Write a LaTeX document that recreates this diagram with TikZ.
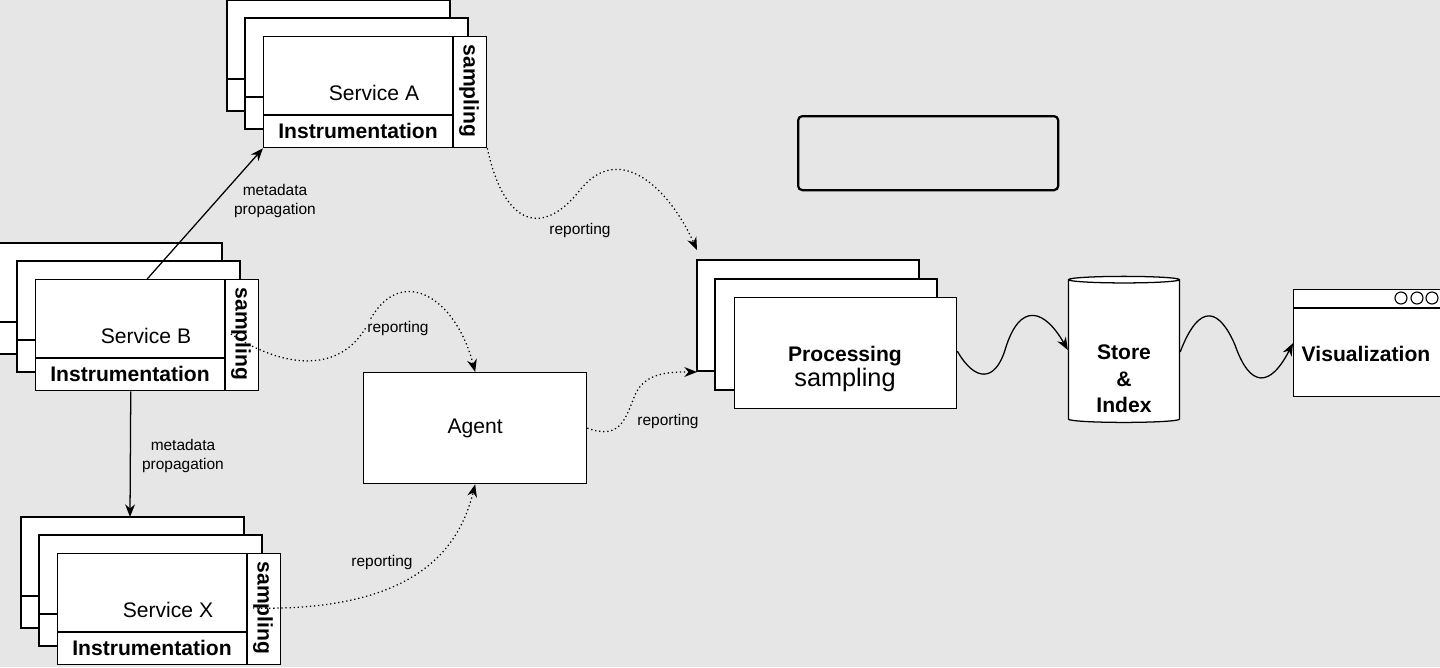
\documentclass[tikz,border=0pt]{standalone}
\usepackage{fontspec}
\setmainfont{Liberation Sans}
\usetikzlibrary{arrows.meta,shapes.geometric}
\definecolor{bg}{HTML}{E6E6E6}
\tikzset{
    box/.style={draw, fill=white, line width=0.9pt},
    svc/.style={box, anchor=north west, minimum width=5.575cm, minimum height=2.775cm, inner sep=0pt},
    big/.style={font=\fontsize{15}{17}\selectfont, inner sep=0pt},
    bold/.style={big, font=\fontsize{15}{17}\selectfont\bfseries},
    note/.style={font=\fontsize{11}{14}\selectfont, align=center, inner sep=1pt},
    link/.style={line width=0.9pt, -{Stealth[length=9pt,width=7pt]}},
    report/.style={link, dotted}
}
% service stack: name, x, y (front top left), label
\newcommand\svcstack[4]{
    \draw [box] (#2-36,#3-36) rectangle ++(223,111);
    \draw [line width=0.9pt] (#2-36,#3+43) -- ++(223,0);
    \draw [box] (#2-18,#3-18) rectangle ++(223,111);
    \draw [line width=0.9pt] (#2-18,#3+61) -- ++(223,0);
    \node [svc] (#1) at (#2,#3) {};
    \draw [line width=0.9pt] (#2+190,#3) -- (#2+190,#3+111);
    \draw [line width=0.9pt] (#2,#3+79) -- (#2+190,#3+79);
    \node [big] (#1 label) at (#2+111,#3+57) {#4};
    \node [bold] (#1 instr) at (#2+95,#3+95) {Instrumentation};
    \node [bold, rotate=-90] (#1 samp) at (#2+206,#3+55) {sampling};
}
\begin{document}
\begin{tikzpicture}[x=0.025cm, y=-0.025cm]
    \fill [bg] (0,0) rectangle (1440,667);
    \useasboundingbox (0,0) rectangle (1440,667);

    % services
    \svcstack{A}{263}{36}{Service A}
    \svcstack{B}{35}{279}{Service B}
    \svcstack{X}{57}{553}{Service X}

    % agent
    \node [box, anchor=north west, minimum width=5.575cm, minimum height=2.775cm, big] (agent) at (363,372) {Agent};

    % processing
    \draw [box] (697,260) rectangle ++(222,111);
    \draw [box] (715,279) rectangle ++(222,111);
    \node [box, anchor=north west, minimum width=5.55cm, minimum height=2.775cm] (proc) at (734,297) {};
    \node [align=center, inner sep=0pt] (proc label) at (845,369)
        {{\fontsize{15}{17}\selectfont\bfseries Processing}\\[0pt]{\fontsize{18}{20}\selectfont sampling}};

    % empty box
    \node [draw, line width=1.6pt, rounded corners=3pt, fill=bg, anchor=north west, minimum width=6.5cm, minimum height=1.85cm] (empty) at (797,115) {};

    % store
    \node [cylinder, shape border rotate=90, aspect=0.7, box, minimum width=2.775cm, minimum height=3.65cm] (store) at (1124,352) {};
    \node [align=center, inner sep=0pt, font=\fontsize{15}{19}\selectfont\bfseries] (store label) at (1124,379) {Store\\\&\\Index};

    % visualization
    \node [box, anchor=north west, minimum width=3.675cm, minimum height=2.675cm] (viz) at (1293,289) {};
    \node [bold] (viz label) at (1366,354) {Visualization};
    \draw [line width=0.9pt] (1293,308) -- (1440,308);
    \foreach \cx in {1401,1417,1432}
        \draw [line width=0.8pt] (\cx,298) circle (6);

    % propagation
    \draw [link] (B.north) -- (A.south west);
    \node [note] at (275,201) {metadata\\propagation};
    \coordinate (X top) at (130,517);
    \draw [link] ([xshift=-0.41cm]B.south) -- (X top);
    \node [note] at (183,456) {metadata\\propagation};

    % reporting
    \coordinate (proc in) at (697,250);
    \draw [report] (A.south east) .. controls (505,230) and (545,235) .. (580,190)
        .. controls (620,140) and (670,190) .. (proc in);
    \node [note] at (580,230) {reporting};
    \draw [report] (B samp.south) .. controls (290,372) and (345,372) .. (370,320)
        .. controls (400,265) and (455,295) .. (agent.north);
    \node [note, fill=bg] at (398,328) {reporting};
    \draw [report] (X samp.south) .. controls (420,612) and (460,545) .. (agent.south);
    \node [note] at (382,562) {reporting};
    \coordinate (proc low) at (697,372);
    \draw [report] (agent.east) .. controls (620,440) and (625,420) .. (635,395)
        .. controls (645,372) and (670,372) .. (proc low);
    \node [note, fill=bg] at (668,421) {reporting};

    % pipeline
    \draw [link] ([yshift=0.05cm]proc.east) .. controls (975,382) and (995,382) .. (1005,350)
        .. controls (1020,300) and (1045,310) .. ([yshift=0.05cm]store.west);
    \draw [link] (store.east) .. controls (1200,300) and (1220,310) .. (1235,345)
        .. controls (1250,388) and (1270,388) .. (viz.west);
\end{tikzpicture}
\end{document}
